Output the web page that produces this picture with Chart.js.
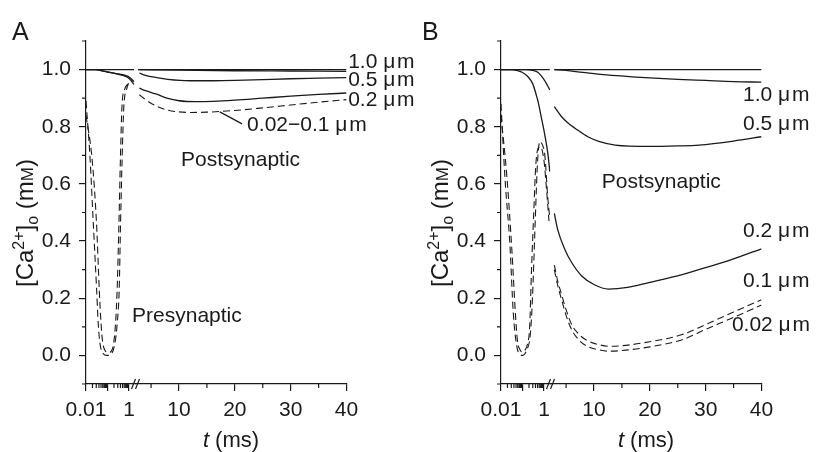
<!DOCTYPE html>
<html>
<head>
<meta charset="utf-8">
<script src="https://cdn.jsdelivr.net/npm/chart.js@4.4.1/dist/chart.umd.min.js"></script>
<style>
  html, body { margin: 0; padding: 0; background: #fff; }
  #wrap { position: relative; width: 830px; height: 452px; }
  .panel { position: absolute; top: 0; width: 415px; height: 452px; }
</style>
</head>
<body>
<div id="wrap">
  <div class="panel" style="left:0"><canvas id="chartA" width="415" height="452"></canvas></div>
  <div class="panel" style="left:415px"><canvas id="chartB" width="415" height="452"></canvas></div>
</div>
<script>
/**
 * [Ca2+]o vs t, two panels (A, B) with a broken x axis:
 * log part 0.01..2 ms, linear part 2.2..40 ms
 */
const INK = '#1a1a1a';
const FONT = "'Liberation Sans', Arial, sans-serif";
Chart.defaults.font.family = FONT;
Chart.defaults.color = INK;

// Ticks
const yMajor = [0, 0.2, 0.4, 0.6, 0.8, 1.0];
const yMinor = [-0.1, 0.1, 0.3, 0.5, 0.7, 0.9, 1.1];
const logMajor = [0.01, 0.1, 1];
const logMinor = [0.02, 0.03, 0.04, 0.05, 0.06, 0.07, 0.08, 0.09, 0.2, 0.3, 0.4, 0.5, 0.6, 0.7, 0.8, 0.9];
const linMajor = [10, 20, 30, 40];
const linMinor = [5, 15, 25, 35];

// ---- Panel A, log part (t in ms) ----
const aFlatLogT = [0.01, 1.7];
const aFlatLogV = [1.0, 1.0];
const aSolidLogT = [0.01, 0.03, 0.05, 0.1, 0.26, 0.5, 0.76, 1.0, 1.3, 1.7];
const a05LogV = [1, 1, 0.996, 0.992, 0.986, 0.982, 0.978, 0.974, 0.967, 0.958];
const a02LogV = [1, 1, 0.996, 0.991, 0.985, 0.980, 0.975, 0.969, 0.960, 0.948];
const aPreOutT = [0.01, 0.0153, 0.0218, 0.0313, 0.0371, 0.0445, 0.0632, 0.0908, 0.155, 0.22, 0.281, 0.348, 0.404, 0.48, 0.574, 0.766, 0.98];
const aPreOutV = [0.89, 0.695, 0.463, 0.228, 0.111, 0.042, 0.006, 0.0, 0.007, 0.042, 0.11, 0.228, 0.463, 0.695, 0.871, 0.93, 0.955];
const aPreInT = [0.01, 0.019, 0.0308, 0.0415, 0.05, 0.06, 0.08, 0.108, 0.15, 0.19, 0.235, 0.28, 0.34, 0.4, 0.47, 0.62, 0.88];
const aPreInV = [0.84, 0.69, 0.463, 0.228, 0.111, 0.045, 0.015, 0.010, 0.015, 0.04, 0.11, 0.228, 0.463, 0.695, 0.871, 0.93, 0.95];

// ---- Panel A, linear part ----
const aFlatT = [2.7, 40];
const aFlatV = [1.0, 1.0];
const a10T = [2.7, 10, 20, 30, 40];
const a10V = [1.0, 0.998, 0.996, 0.995, 0.994];
const a05T = [2.9, 4, 6, 8, 12, 16, 20, 25, 30, 35, 40];
const a05V = [0.988, 0.980, 0.972, 0.966, 0.961, 0.961, 0.962, 0.965, 0.968, 0.970, 0.972];
const a02T = [2.9, 4, 6, 8, 10, 13, 16, 20, 25, 30, 35, 40];
const a02V = [0.935, 0.926, 0.914, 0.899, 0.891, 0.888, 0.889, 0.893, 0.900, 0.907, 0.913, 0.918];
const aSmallT = [2.9, 4, 6, 8, 10, 12, 15, 20, 25, 30, 35, 40];
const aSmallV = [0.912, 0.895, 0.872, 0.858, 0.852, 0.850, 0.851, 0.857, 0.866, 0.876, 0.886, 0.895];

// ---- Panel B, log part ----
const bFlatLogT = [0.01, 1.85];
const bFlatLogV = [1.0, 1.0];
const b05LogT = [0.01, 0.15, 0.3, 0.53, 0.76, 1.0, 1.3, 1.6, 1.85];
const b05LogV = [1, 1, 0.997, 0.990, 0.977, 0.965, 0.951, 0.938, 0.929];
const b02LogT = [0.01, 0.031, 0.06, 0.1, 0.18, 0.3, 0.44, 0.53, 0.76, 1.09, 1.54, 1.85];
const b02LogV = [1, 1, 0.996, 0.990, 0.975, 0.950, 0.910, 0.888, 0.830, 0.771, 0.701, 0.643];
const bPreOutT = [0.01, 0.0153, 0.026, 0.037, 0.053, 0.076, 0.1, 0.129, 0.18, 0.22, 0.27, 0.315, 0.404, 0.5, 0.64, 0.8, 1.09, 1.5, 1.8];
const bPreOutV = [0.88, 0.62, 0.386, 0.152, 0.036, 0.003, 0.0, 0.006, 0.03, 0.059, 0.15, 0.27, 0.503, 0.678, 0.748, 0.74, 0.70, 0.55, 0.49];
const bPreInT = [0.01, 0.019, 0.0325, 0.0473, 0.0585, 0.0764, 0.1, 0.13, 0.17, 0.215, 0.262, 0.333, 0.41, 0.527, 0.685, 1.0, 1.31, 1.7];
const bPreInV = [0.84, 0.62, 0.36, 0.14, 0.05, 0.02, 0.012, 0.018, 0.04, 0.10, 0.30, 0.50, 0.66, 0.725, 0.73, 0.68, 0.58, 0.47];

// ---- Panel B, linear part ----
const bFlatT = [2.9, 40];
const bFlatV = [1.0, 1.0];
const b10T = [2.9, 5, 8, 10, 14, 20, 25, 30, 35, 40];
const b10V = [1.0, 0.997, 0.990, 0.986, 0.979, 0.971, 0.966, 0.962, 0.958, 0.956];
const b05T = [2.9, 4.2, 5.4, 6.6, 8.9, 11, 13.8, 19.8, 25, 28.8, 35, 40];
const b05V = [0.870, 0.835, 0.812, 0.795, 0.765, 0.748, 0.736, 0.731, 0.733, 0.736, 0.750, 0.765];
const b02T = [2.9, 3.5, 4.8, 6, 7.8, 10, 12.6, 16, 19.8, 25.8, 30, 35, 40];
const b02V = [0.497, 0.440, 0.370, 0.325, 0.278, 0.248, 0.232, 0.238, 0.255, 0.283, 0.307, 0.338, 0.373];
const bSmallT = [2.9, 3.5, 4.2, 5, 6, 7.5, 9, 11, 12.6, 15, 20, 25.8, 30, 35, 40];
const b01V = [0.316, 0.260, 0.213, 0.160, 0.108, 0.070, 0.050, 0.037, 0.032, 0.034, 0.048, 0.073, 0.108, 0.152, 0.195];
const b002V = [0.300, 0.245, 0.195, 0.140, 0.090, 0.050, 0.030, 0.019, 0.015, 0.017, 0.030, 0.055, 0.091, 0.133, 0.176];

/**
 * One curve segment on the log ('xl') or linear ('xr') part
 */
function lineSet(t, v, axis, dashed) {
    return {
        data: t.map((x, i) => ({ x: x, y: v[i] })),
        xAxisID: axis,
        yAxisID: 'y',
        borderColor: INK,
        borderWidth: dashed ? 1.1 : 1.3,
        borderDash: dashed ? [7, 4] : [],
        pointRadius: 0,
        fill: false,
        cubicInterpolationMode: 'monotone'
    };
}

const axisLine = { display: true, color: INK, width: 1.2 };
const tickMarks = { drawOnChartArea: false, drawTicks: true, tickLength: 7, color: INK, lineWidth: 1.2 };

function xAxis(type, min, max, weight, majors, labelFn) {
    return {
        type: type, min: min, max: max,
        position: 'bottom', stack: 'x', stackWeight: weight,
        afterBuildTicks: s => { s.ticks = majors.map(v => ({ value: v })); },
        afterFit: s => { s.height = 68; },
        grid: tickMarks,
        border: axisLine,
        ticks: { autoSkip: false, maxRotation: 0, padding: 7, color: INK, font: { size: 21 }, callback: labelFn }
    };
}

/**
 * Extra drawing: minor ticks, axis break, titles, curve labels
 */
const decorPlugin = {
    id: 'decor',
    afterDraw(chart, args, opts) {
        const ctx = chart.ctx;
        const { xl, xr, y } = chart.scales;
        const area = chart.chartArea;
        ctx.save();
        ctx.strokeStyle = INK;
        ctx.lineWidth = 1.2;

        // minor ticks
        ctx.beginPath();
        yMinor.forEach(v => {
            const py = y.getPixelForValue(v);
            ctx.moveTo(area.left - 4, py); ctx.lineTo(area.left, py);
        });
        logMinor.forEach(v => {
            const px = xl.getPixelForValue(v);
            ctx.moveTo(px, area.bottom); ctx.lineTo(px, area.bottom + 4);
        });
        linMinor.forEach(v => {
            const px = xr.getPixelForValue(v);
            ctx.moveTo(px, area.bottom); ctx.lineTo(px, area.bottom + 4);
        });
        ctx.stroke();

        // axis break //
        const bx = xl.right;
        ctx.beginPath();
        ctx.moveTo(bx - 4, area.bottom + 5); ctx.lineTo(bx, area.bottom - 5);
        ctx.moveTo(bx, area.bottom + 5); ctx.lineTo(bx + 4, area.bottom - 5);
        ctx.stroke();

        // leader line
        if (opts.leader) {
            const L = opts.leader;
            ctx.beginPath();
            ctx.moveTo(chart.scales[L.axis].getPixelForValue(L.t), y.getPixelForValue(L.v));
            ctx.lineTo(chart.scales[L.axis].getPixelForValue(L.toT), y.getPixelForValue(L.toV));
            ctx.stroke();
        }

        ctx.fillStyle = INK;

        // panel letter
        ctx.font = '25px ' + FONT;
        ctx.textAlign = 'left';
        ctx.textBaseline = 'alphabetic';
        ctx.fillText(opts.letter, opts.letterX, 40);

        // curve labels
        ctx.font = '21px ' + FONT;
        ctx.textBaseline = 'middle';
        opts.labels.forEach(l => {
            ctx.fillText(l.text, chart.scales[l.axis].getPixelForValue(l.t), y.getPixelForValue(l.v));
        });

        // x title: t (ms)
        ctx.textBaseline = 'alphabetic';
        ctx.font = 'italic 22px ' + FONT;
        const wt = ctx.measureText('t').width;
        ctx.font = '22px ' + FONT;
        const wr = ctx.measureText(' (ms)').width;
        let x0 = 231 - (wt + wr) / 2;
        ctx.font = 'italic 22px ' + FONT;
        ctx.fillText('t', x0, 447);
        ctx.font = '22px ' + FONT;
        ctx.fillText(' (ms)', x0 + wt, 447);

        // y title: [Ca2+]o (mM)
        const parts = [
            { s: '[Ca', f: '24px ' + FONT, dy: 0 },
            { s: '2+', f: '16px ' + FONT, dy: -9 },
            { s: ']', f: '24px ' + FONT, dy: 0 },
            { s: 'o', f: '16px ' + FONT, dy: 5 },
            { s: ' (m', f: '24px ' + FONT, dy: 0 },
            { s: 'M', f: '17px ' + FONT, dy: 0 },
            { s: ')', f: '24px ' + FONT, dy: 0 }
        ];
        let total = 0;
        parts.forEach(p => { ctx.font = p.f; p.w = ctx.measureText(p.s).width; total += p.w; });
        ctx.translate(33, 223);
        ctx.rotate(-Math.PI / 2);
        let px = -total / 2;
        parts.forEach(p => { ctx.font = p.f; ctx.fillText(p.s, px, p.dy); px += p.w; });
        ctx.restore();
    }
};

function createPanel(canvasId, datasets, decor) {
    return new Chart(document.getElementById(canvasId), {
        type: 'line',
        data: { datasets: datasets },
        options: {
            responsive: false,
            animation: false,
            devicePixelRatio: 1,
            layout: { padding: { left: 0, right: 68.5, top: 41, bottom: 0 } },
            plugins: { legend: { display: false }, tooltip: { enabled: false }, decor: decor },
            scales: {
                xl: xAxis('logarithmic', 0.01, 2.0, 49.5, logMajor, v => (v === 0.01 ? '0.01' : v === 1 ? '1' : '')),
                xr: xAxis('linear', 2.21, 40, 211, linMajor, v => String(v)),
                y: {
                    type: 'linear', min: -0.1, max: 1.1, position: 'left',
                    afterBuildTicks: s => { s.ticks = yMajor.map(v => ({ value: v })); },
                    afterFit: s => { s.width = 86; },
                    grid: tickMarks,
                    border: axisLine,
                    ticks: { padding: 8, color: INK, font: { size: 21 }, callback: v => v.toFixed(1) }
                }
            }
        },
        plugins: [decorPlugin]
    });
}

const MU = '\u03bc\u200am';

createPanel('chartA', [
    lineSet(aFlatLogT, aFlatLogV, 'xl', false),
    lineSet(aSolidLogT, a05LogV, 'xl', false),
    lineSet(aSolidLogT, a02LogV, 'xl', false),
    lineSet(aPreOutT, aPreOutV, 'xl', true),
    lineSet(aPreInT, aPreInV, 'xl', true),
    lineSet(aFlatT, aFlatV, 'xr', false),
    lineSet(a10T, a10V, 'xr', false),
    lineSet(a05T, a05V, 'xr', false),
    lineSet(a02T, a02V, 'xr', false),
    lineSet(aSmallT, aSmallV, 'xr', true)
], {
    letter: 'A', letterX: 12,
    leader: { axis: 'xr', t: 17.3, v: 0.852, toT: 21.3, toV: 0.810 },
    labels: [
        { text: '1.0 ' + MU, axis: 'xr', t: 40.3, v: 1.0265 },
        { text: '0.5 ' + MU, axis: 'xr', t: 40.3, v: 0.962 },
        { text: '0.2 ' + MU, axis: 'xr', t: 40.3, v: 0.894 },
        { text: '0.02\u22120.1 ' + MU, axis: 'xr', t: 22.2, v: 0.806 },
        { text: 'Postsynaptic', axis: 'xr', t: 10.36, v: 0.684 },
        { text: 'Presynaptic', axis: 'xl', t: 1.38, v: 0.138 }
    ]
});

createPanel('chartB', [
    lineSet(bFlatLogT, bFlatLogV, 'xl', false),
    lineSet(b05LogT, b05LogV, 'xl', false),
    lineSet(b02LogT, b02LogV, 'xl', false),
    lineSet(bPreOutT, bPreOutV, 'xl', true),
    lineSet(bPreInT, bPreInV, 'xl', true),
    lineSet(bFlatT, bFlatV, 'xr', false),
    lineSet(b10T, b10V, 'xr', false),
    lineSet(b05T, b05V, 'xr', false),
    lineSet(b02T, b02V, 'xr', false),
    lineSet(bSmallT, b01V, 'xr', true),
    lineSet(bSmallT, b002V, 'xr', true)
], {
    letter: 'B', letterX: 7,
    labels: [
        { text: '1.0 ' + MU, axis: 'xr', t: 36.7, v: 0.911 },
        { text: '0.5 ' + MU, axis: 'xr', t: 36.7, v: 0.810 },
        { text: 'Postsynaptic', axis: 'xr', t: 11.4, v: 0.607 },
        { text: '0.2 ' + MU, axis: 'xr', t: 36.7, v: 0.433 },
        { text: '0.1 ' + MU, axis: 'xr', t: 36.7, v: 0.258 },
        { text: '0.02 ' + MU, axis: 'xr', t: 34.7, v: 0.106 }
    ]
});
</script>
</body>
</html>
